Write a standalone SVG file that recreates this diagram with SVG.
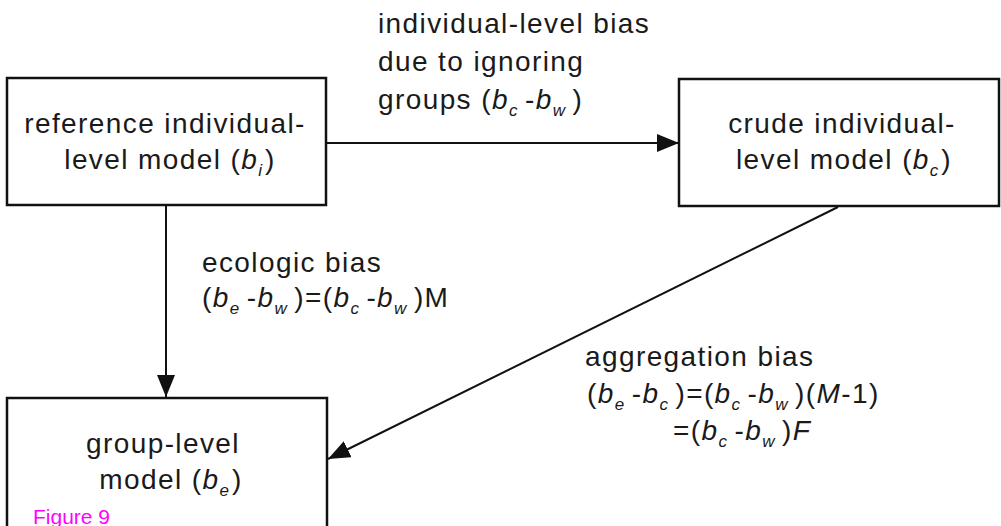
<svg xmlns="http://www.w3.org/2000/svg" width="1001" height="526" viewBox="0 0 1001 526">
<defs>
<style>
.box{fill:#fff;stroke:#111;stroke-width:2.5}
.t{font-family:"Liberation Sans",Arial,sans-serif;font-size:28px;fill:#1a1a1a;letter-spacing:1.4px}
.i{font-style:italic}
.s{font-size:17px;font-style:italic;letter-spacing:7.5px}
.s0{font-size:17px;font-style:italic;letter-spacing:3px}
.edge{stroke:#111;stroke-width:2;fill:none}
.fig{font-family:"Liberation Sans",Arial,sans-serif;font-size:21px;fill:#ff00ff}
</style>
<marker id="ah" markerUnits="userSpaceOnUse" markerWidth="24" markerHeight="20" refX="22" refY="9" orient="auto">
<path d="M0,0 L22,9 L0,18 z" fill="#111"/>
</marker>
</defs>
<rect width="1001" height="526" fill="#fff"/>
<g id="connectors">
<line class="edge" x1="326" y1="143" x2="679" y2="143" marker-end="url(#ah)"/>
<line class="edge" x1="166" y1="205" x2="166" y2="397" marker-end="url(#ah)"/>
<line class="edge" x1="838" y1="207" x2="328" y2="459" marker-end="url(#ah)"/>
</g>
<g id="node-reference">
<rect class="box" x="7" y="78" width="319" height="127"/>
<text class="t" x="165" y="133" text-anchor="middle">reference individual-</text>
<text class="t" x="170" y="169" text-anchor="middle">level model (<tspan class="i">b</tspan><tspan class="s0" dy="7">i</tspan><tspan dy="-7">)</tspan></text>
</g>
<g id="node-crude">
<rect class="box" x="679" y="79" width="320" height="127"/>
<text class="t" x="842" y="133" text-anchor="middle">crude individual-</text>
<text class="t" x="844" y="169" text-anchor="middle">level model (<tspan class="i">b</tspan><tspan class="s0" dy="7">c</tspan><tspan dy="-7">)</tspan></text>
</g>
<g id="node-group">
<rect class="box" x="7" y="398" width="320" height="140"/>
<text class="t" x="163" y="453" text-anchor="middle">group-level</text>
<text class="t" x="171" y="489" text-anchor="middle">model (<tspan class="i">b</tspan><tspan class="s0" dy="7">e</tspan><tspan dy="-7">)</tspan></text>
<text class="fig" x="33" y="524">Figure 9</text>
</g>
<g id="label-individual">
<text class="t" x="378" y="33">individual-level bias</text>
<text class="t" x="378" y="71">due to ignoring</text>
<text class="t" x="378" y="109">groups (<tspan class="i">b</tspan><tspan class="s" dy="7">c</tspan><tspan dy="-7">-</tspan><tspan class="i">b</tspan><tspan class="s" dy="7">w</tspan><tspan dy="-7">)</tspan></text>
</g>
<g id="label-ecologic">
<text class="t" x="202" y="272">ecologic bias</text>
<text class="t" x="202" y="307">(<tspan class="i">b</tspan><tspan class="s" dy="7">e</tspan><tspan dy="-7">-</tspan><tspan class="i">b</tspan><tspan class="s" dy="7">w</tspan><tspan dy="-7">)=(</tspan><tspan class="i">b</tspan><tspan class="s" dy="7">c</tspan><tspan dy="-7">-</tspan><tspan class="i">b</tspan><tspan class="s" dy="7">w</tspan><tspan dy="-7">)M</tspan></text>
</g>
<g id="label-aggregation">
<text class="t" x="585" y="366">aggregation bias</text>
<text class="t" x="587" y="403">(<tspan class="i">b</tspan><tspan class="s" dy="7">e</tspan><tspan dy="-7">-</tspan><tspan class="i">b</tspan><tspan class="s" dy="7">c</tspan><tspan dy="-7">)=(</tspan><tspan class="i">b</tspan><tspan class="s" dy="7">c</tspan><tspan dy="-7">-</tspan><tspan class="i">b</tspan><tspan class="s" dy="7">w</tspan><tspan dy="-7">)(</tspan><tspan class="i">M</tspan>-1)</text>
<text class="t" x="673" y="440">=(<tspan class="i">b</tspan><tspan class="s" dy="7">c</tspan><tspan dy="-7">-</tspan><tspan class="i">b</tspan><tspan class="s" dy="7">w</tspan><tspan dy="-7">)</tspan><tspan class="i">F</tspan></text>
</g>
</svg>
